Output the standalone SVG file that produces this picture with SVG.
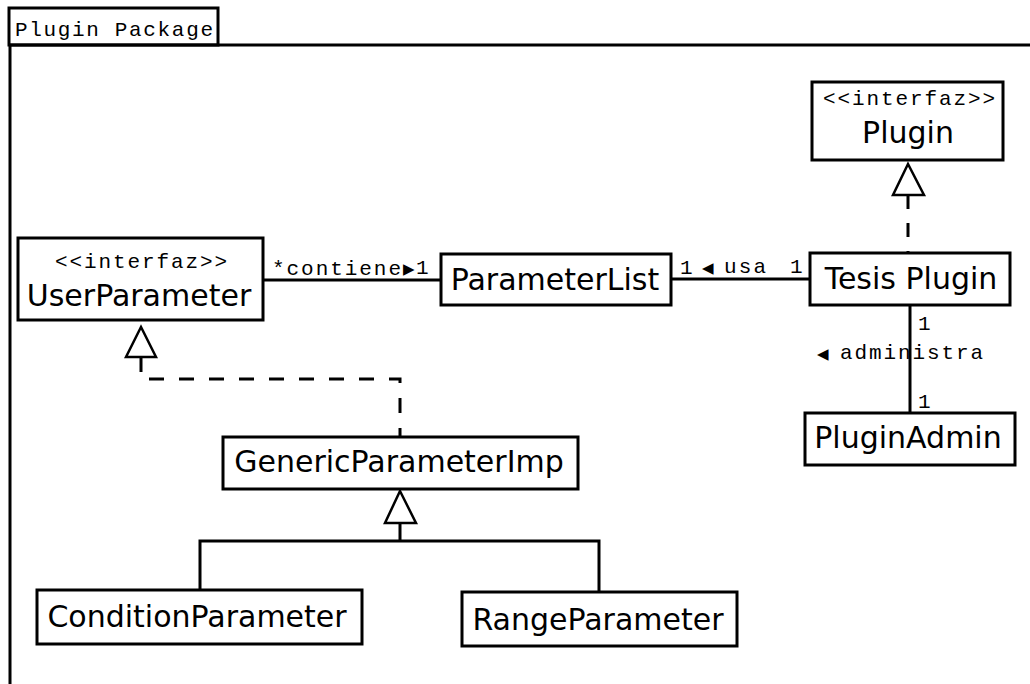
<svg xmlns="http://www.w3.org/2000/svg" width="1030" height="684" viewBox="0 0 1030 684">
  <style>
    .box { fill: #ffffff; stroke: #000000; stroke-width: 3; }
    .line { fill: none; stroke: #000000; stroke-width: 3; }
    .dash { fill: none; stroke: #000000; stroke-width: 3; stroke-dasharray: 15 15; }
    .tri { fill: #ffffff; stroke: #000000; stroke-width: 2.5; stroke-linejoin: miter; }
    .name { font-family: "DejaVu Sans", "Liberation Sans", sans-serif; font-size: 30px; fill: #000000; text-anchor: middle; }
    .stereo { font-family: "Liberation Mono", "DejaVu Sans Mono", monospace; font-size: 21px; fill: #000000; text-anchor: middle; }
    .lbl { font-family: "Liberation Mono", "DejaVu Sans Mono", monospace; font-size: 21px; fill: #000000; }
    .arr { font-family: "DejaVu Sans", sans-serif; font-size: 15px; fill: #000000; }
  </style>

  <rect width="1030" height="684" fill="#ffffff"/>

  <!-- package frame -->
  <g id="package">
    <rect x="9" y="8" width="209" height="37" class="box"/>
    <path d="M10 684 V45 H1030" class="line"/>
    <text x="15" y="36" class="lbl" textLength="198" lengthAdjust="spacing">Plugin Package</text>
  </g>

  <!-- connectors -->
  <g id="connectors">
    <!-- UserParameter - ParameterList -->
    <line x1="263" y1="280" x2="441" y2="280" class="line"/>
    <text class="lbl" y="275">
      <tspan x="272" textLength="129" lengthAdjust="spacing">*contiene</tspan><tspan class="arr" x="403" y="274">▶</tspan><tspan x="416">1</tspan>
    </text>

    <!-- ParameterList - Tesis Plugin -->
    <line x1="671" y1="279" x2="810" y2="279" class="line"/>
    <text class="lbl" y="274">
      <tspan x="680">1</tspan><tspan class="arr" x="702" y="273">◀</tspan><tspan x="724" textLength="42" lengthAdjust="spacing">usa</tspan><tspan x="790">1</tspan>
    </text>

    <!-- Tesis Plugin - PluginAdmin -->
    <line x1="910" y1="305" x2="910" y2="413" class="line"/>
    <text class="lbl" x="918" y="330">1</text>
    <text class="lbl" y="361">
      <tspan class="arr" x="817" y="359">◀</tspan><tspan x="840" textLength="143" lengthAdjust="spacing">administra</tspan>
    </text>
    <text class="lbl" x="918" y="408">1</text>

    <!-- Tesis Plugin realizes Plugin -->
    <path d="M908 195 V253" class="line" stroke-dasharray="14 14"/>
    <polygon points="908,164 893,195 924,195" class="tri"/>

    <!-- GenericParameterImp realizes UserParameter -->
    <path d="M141 357 V379 H400 V437" class="dash"/>
    <polygon points="141,327 126,357 156,357" class="tri"/>

    <!-- Condition/Range specialize GenericParameterImp -->
    <path d="M400 523 V541 M200 590 V541 H599 V592" class="line"/>
    <polygon points="400,491 385,523 416,523" class="tri"/>
  </g>

  <!-- nodes -->
  <g id="node-userparameter">
    <rect x="18" y="238" width="245" height="82" class="box"/>
    <text x="141" y="268" class="stereo" textLength="172" lengthAdjust="spacing">&lt;&lt;interfaz&gt;&gt;</text>
    <text x="139" y="306" class="name">UserParameter</text>
  </g>

  <g id="node-parameterlist">
    <rect x="441" y="254" width="230" height="51" class="box"/>
    <text x="555" y="290" class="name">ParameterList</text>
  </g>

  <g id="node-plugin">
    <rect x="812" y="82" width="191" height="78" class="box"/>
    <text x="909" y="105" class="stereo" textLength="172" lengthAdjust="spacing">&lt;&lt;interfaz&gt;&gt;</text>
    <text x="908" y="143" class="name">Plugin</text>
  </g>

  <g id="node-tesisplugin">
    <rect x="810" y="253" width="200" height="52" class="box"/>
    <text x="911" y="289" class="name">Tesis Plugin</text>
  </g>

  <g id="node-pluginadmin">
    <rect x="805" y="413" width="210" height="52" class="box"/>
    <text x="908" y="448" class="name">PluginAdmin</text>
  </g>

  <g id="node-genericparameterimp">
    <rect x="223" y="437" width="355" height="52" class="box"/>
    <text x="399" y="472" class="name">GenericParameterImp</text>
  </g>

  <g id="node-conditionparameter">
    <rect x="37" y="590" width="325" height="54" class="box"/>
    <text x="197" y="627" class="name">ConditionParameter</text>
  </g>

  <g id="node-rangeparameter">
    <rect x="462" y="592" width="275" height="54" class="box"/>
    <text x="598" y="630" class="name">RangeParameter</text>
  </g>
</svg>
